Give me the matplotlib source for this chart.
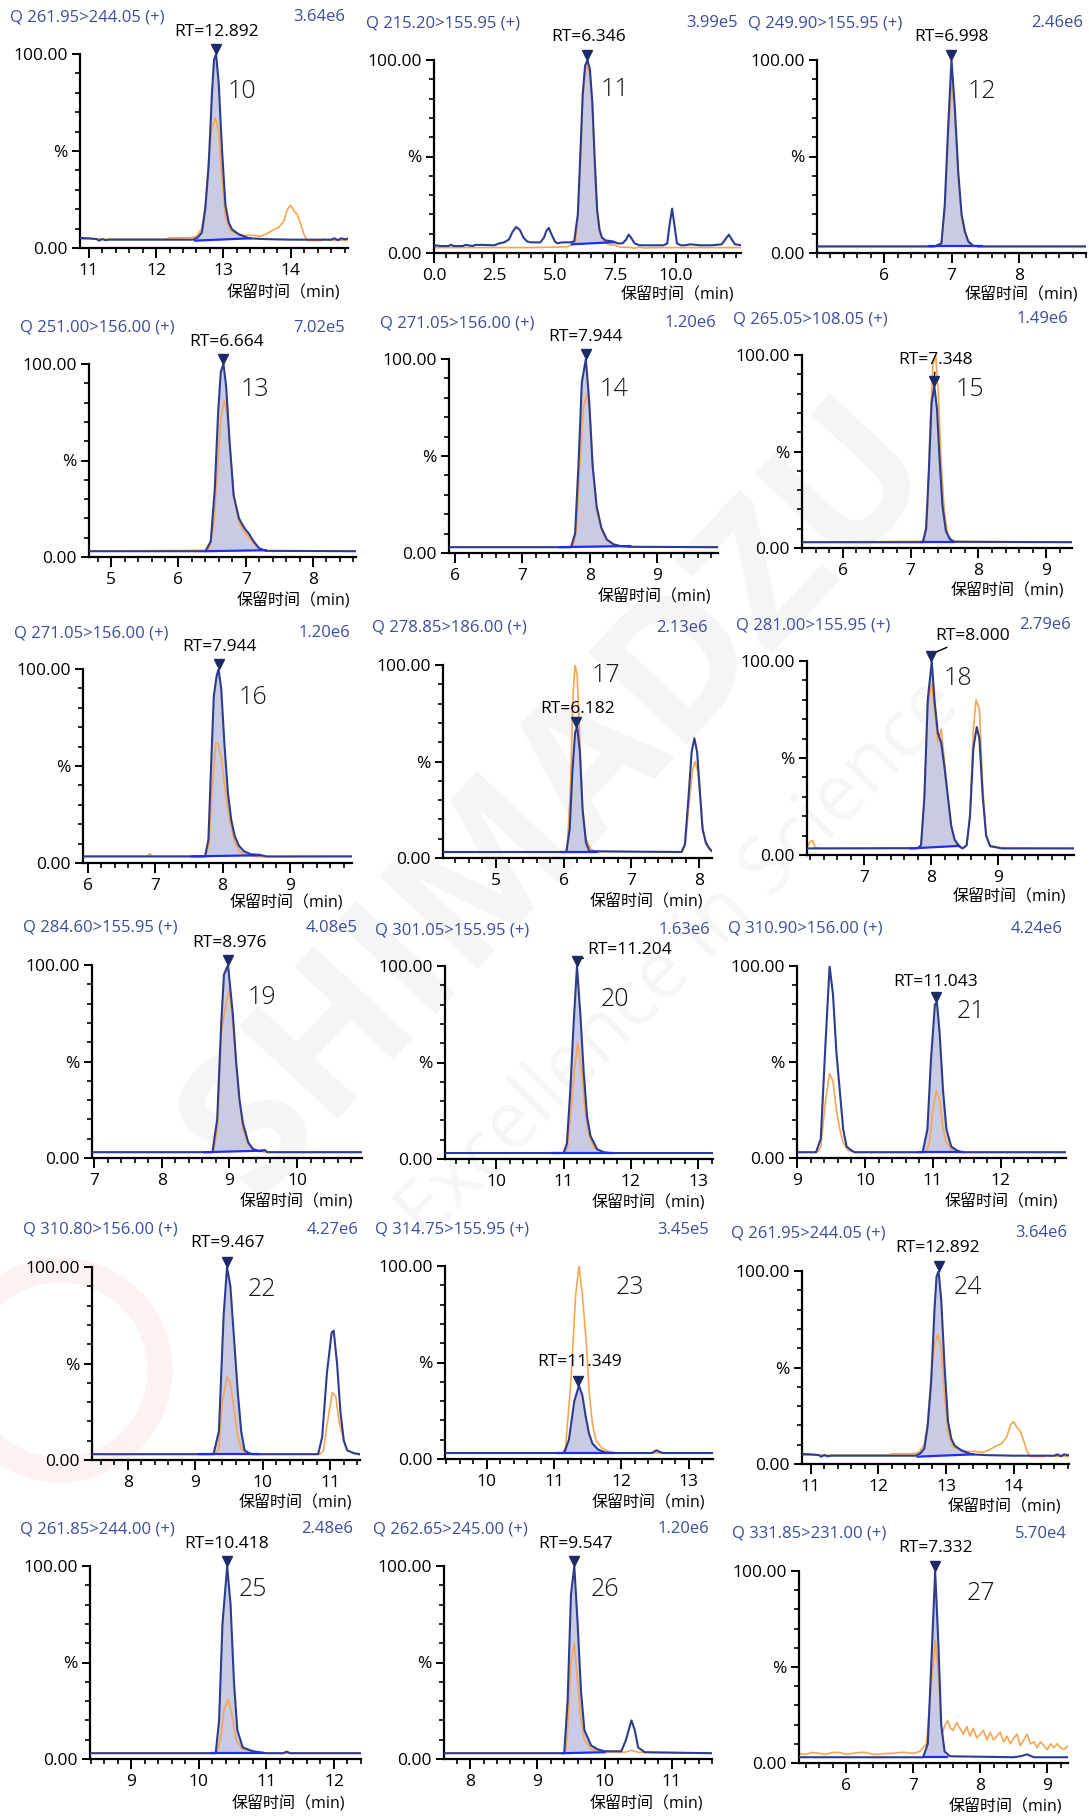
import matplotlib
matplotlib.use('Agg')
import matplotlib.pyplot as plt
from matplotlib.ticker import MultipleLocator, FixedLocator, FormatStrFormatter
from matplotlib.patches import Circle

W, H = 1089, 1816
plt.rcParams['font.family'] = ['Open Sans', 'Noto Sans CJK SC', 'DejaVu Sans']

BLUE = '#2d3d8e'
ORANGE = '#f7a552'
FILL = '#c9cbe4'
INTEG = '#1f2cf5'
MARK = '#1c2a66'
TITLE_C = '#3a4d9a'

# ---------------- data ----------------
TITLES = ['Q 261.95>244.05 (+)', 'Q 215.20>155.95 (+)', 'Q 249.90>155.95 (+)',
          'Q 251.00>156.00 (+)', 'Q 271.05>156.00 (+)', 'Q 265.05>108.05 (+)',
          'Q 271.05>156.00 (+)', 'Q 278.85>186.00 (+)', 'Q 281.00>155.95 (+)',
          'Q 284.60>155.95 (+)', 'Q 301.05>155.95 (+)', 'Q 310.90>156.00 (+)',
          'Q 310.80>156.00 (+)', 'Q 314.75>155.95 (+)', 'Q 261.95>244.05 (+)',
          'Q 261.85>244.00 (+)', 'Q 262.65>245.00 (+)', 'Q 331.85>231.00 (+)']
SCALES = ['3.64e6', '3.99e5', '2.46e6', '7.02e5', '1.20e6', '1.49e6',
          '1.20e6', '2.13e6', '2.79e6', '4.08e5', '1.63e6', '4.24e6',
          '4.27e6', '3.45e5', '3.64e6', '2.48e6', '1.20e6', '5.70e4']
NUMBERS = ['10', '11', '12', '13', '14', '15', '16', '17', '18',
           '19', '20', '21', '22', '23', '24', '25', '26', '27']
RTS = [12.892, 6.346, 6.998, 6.664, 7.944, 7.348, 7.944, 6.182, 8.000,
       8.976, 11.204, 11.043, 9.467, 11.349, 12.892, 10.418, 9.547, 7.332]
RT_HEIGHTS = [100, 100, 100, 100, 100, 84, 100, 68, 100,
              100, 100, 81, 100, 38, 100, 100, 100, 100]
XTICKS = [[11, 12, 13, 14], [0.0, 2.5, 5.0, 7.5, 10.0], [6, 7, 8],
          [5, 6, 7, 8], [6, 7, 8, 9], [6, 7, 8, 9],
          [6, 7, 8, 9], [5, 6, 7, 8], [7, 8, 9],
          [7, 8, 9, 10], [10, 11, 12, 13], [9, 10, 11, 12],
          [8, 9, 10, 11], [10, 11, 12, 13], [11, 12, 13, 14],
          [9, 10, 11, 12], [8, 9, 10, 11], [6, 7, 8, 9]]

P10_T_B = [10.87, 11.0, 11.12, 11.15, 11.2, 11.25, 11.3, 12.0, 12.55, 12.62, 12.68, 12.73, 12.78, 12.83, 12.86, 12.89, 12.93, 12.98, 13.03, 13.08, 13.13, 13.23, 13.38, 13.6, 14.0, 14.6, 14.65, 14.7, 14.75, 14.8, 14.87]
P10_Y_B = [5.2, 5.0, 4.6, 3.8, 4.6, 4.0, 4.3, 4.3, 4.3, 5.5, 8, 20, 42, 80, 97, 100, 85, 50, 22, 13, 9.5, 7, 5, 4.6, 4.3, 4.3, 5.0, 4.0, 5.0, 4.5, 5.0]
P10_T_O = [10.87, 11.5, 12.15, 12.2, 12.5, 12.6, 12.68, 12.73, 12.78, 12.83, 12.88, 12.93, 12.98, 13.03, 13.1, 13.2, 13.3, 13.45, 13.55, 13.65, 13.75, 13.82, 13.9, 13.95, 14.0, 14.05, 14.1, 14.15, 14.2, 14.25, 14.45, 14.5, 14.55, 14.87]
P10_Y_O = [4.6, 4.6, 4.6, 5.3, 5.3, 6.0, 10, 22, 45, 62, 67, 60, 35, 16, 9, 7.5, 6.5, 6.5, 6, 7.5, 9.5, 10.5, 14, 20, 22, 19, 17, 12, 6.5, 3.8, 3.8, 4.5, 4.0, 4.0]
P10_INT = [12.58, 3.8, 13.4, 5.0]

P11_T_B = [0.0, 0.3, 0.6, 0.7, 0.8, 1.2, 1.3, 1.6, 1.7, 2.0, 2.5, 2.7, 2.9, 3.1, 3.25, 3.4, 3.55, 3.7, 3.85, 4.0, 4.4, 4.55, 4.65, 4.75, 4.85, 5.0, 5.1, 5.3, 5.6, 5.8, 5.95, 6.05, 6.15, 6.25, 6.35, 6.45, 6.55, 6.65, 6.75, 6.85, 6.95, 7.1, 7.4, 7.6, 7.8, 7.95, 8.05, 8.15, 8.3, 8.5, 9.0, 9.5, 9.65, 9.75, 9.85, 9.95, 10.05, 10.2, 10.4, 10.6, 11.0, 11.5, 11.9, 12.05, 12.2, 12.32, 12.45, 12.75]
P11_Y_B = [4, 3.6, 3.6, 4.3, 3.6, 3.6, 4.2, 3.6, 4.2, 4.2, 4.0, 5.0, 5.5, 7, 11, 13.5, 12, 8, 6, 5.5, 5.5, 8, 11.5, 13, 10, 6, 5, 5.5, 5.5, 6, 20, 50, 82, 97, 100, 95, 78, 48, 22, 12, 8, 6.5, 6, 5, 5, 7, 9.5, 8, 5, 4, 4, 4, 5, 15, 23, 14, 5, 4, 4, 4.5, 4, 4, 4.5, 7, 9.5, 7, 4.5, 4]
P11_T_O = [0.0, 2.0, 4.0, 5.5, 5.85, 5.95, 6.05, 6.15, 6.25, 6.35, 6.45, 6.55, 6.65, 6.75, 6.85, 7.0, 7.2, 7.5, 7.7, 8.0, 8.3, 8.5, 8.7, 9.2, 12.75]
P11_Y_O = [2.8, 2.8, 2.8, 3.2, 5, 18, 45, 78, 94, 97, 92, 75, 45, 20, 10, 6, 4.5, 4, 3.0, 3.0, 2.5, 3.0, 2.6, 2.8, 2.8]
P11_INT = [5.7, 4.5, 7.45, 5.6]

P12_T_B = [5.0, 6.75, 6.85, 6.9, 6.95, 7.0, 7.05, 7.1, 7.15, 7.2, 7.25, 7.32, 7.4, 9.0]
P12_Y_B = [3.4, 3.4, 5, 25, 65, 100, 75, 42, 20, 11, 6, 3.8, 3.4, 3.4]
P12_T_O = [5.0, 6.75, 6.85, 6.9, 6.95, 7.0, 7.05, 7.1, 7.15, 7.2, 7.25, 7.32, 7.4, 9.0]
P12_Y_O = [3.4, 3.4, 4.5, 22, 60, 88, 72, 40, 18, 10, 5.5, 3.8, 3.4, 3.4]
P12_INT = [6.67, 3.4, 7.45, 3.4]

P13_T_B = [4.67, 6.4, 6.48, 6.54, 6.59, 6.63, 6.67, 6.71, 6.76, 6.82, 6.9, 6.98, 7.05, 7.12, 7.2, 7.3, 8.64]
P13_Y_B = [3, 3, 8, 35, 75, 96, 100, 88, 60, 32, 20, 15, 12, 8, 4.5, 3.2, 3]
P13_T_O = [4.67, 6.45, 6.52, 6.58, 6.63, 6.68, 6.72, 6.77, 6.83, 6.9, 6.98, 7.05, 7.12, 7.2, 7.3, 8.64]
P13_Y_O = [3, 3.5, 15, 45, 72, 81, 75, 55, 30, 18, 13, 10, 7, 4, 3.2, 3]
P13_INT = [6.4, 3.0, 7.3, 3.5]

P14_T_B = [5.91, 7.72, 7.78, 7.83, 7.88, 7.94, 7.99, 8.04, 8.1, 8.17, 8.25, 8.35, 8.45, 8.6, 9.9]
P14_Y_B = [3, 3, 10, 45, 88, 100, 78, 45, 24, 13, 7, 4.5, 3.6, 3.2, 3]
P14_T_O = [5.91, 7.75, 7.8, 7.85, 7.9, 7.96, 8.0, 8.05, 8.1, 8.17, 8.25, 8.35, 8.45, 8.6, 9.9]
P14_Y_O = [3, 3.2, 12, 45, 75, 82, 72, 42, 22, 12, 6.5, 4, 3.5, 3.2, 3]
P14_INT = [7.55, 3.0, 8.6, 3.6]

P15_T_B = [5.4, 7.18, 7.23, 7.27, 7.31, 7.35, 7.39, 7.43, 7.47, 7.52, 7.58, 7.65, 9.38]
P15_Y_B = [3, 3, 10, 40, 75, 84, 72, 45, 22, 9, 4.5, 3.2, 3]
P15_T_O = [5.4, 7.2, 7.25, 7.29, 7.33, 7.37, 7.41, 7.45, 7.5, 7.55, 7.62, 9.38]
P15_Y_O = [3, 3.5, 20, 65, 95, 100, 80, 45, 18, 7, 3.5, 3]
P15_INT = [7.15, 3.0, 7.62, 3.0]

P16_T_B = [5.93, 7.74, 7.79, 7.83, 7.87, 7.91, 7.94, 7.98, 8.03, 8.08, 8.13, 8.18, 8.24, 8.32, 8.42, 8.55, 8.65, 9.92]
P16_Y_B = [3.4, 3.4, 12, 50, 86, 96, 100, 90, 60, 36, 22, 14, 9, 6, 4.5, 4.2, 3.4, 3.4]
P16_T_O = [5.93, 6.88, 6.92, 6.96, 7.75, 7.8, 7.85, 7.9, 7.94, 7.98, 8.03, 8.08, 8.13, 8.18, 8.25, 8.35, 8.45, 8.6, 9.92]
P16_Y_O = [3.4, 3.4, 4.8, 3.4, 3.4, 10, 40, 62, 61, 54, 40, 28, 18, 11, 6, 4, 3.4, 3.2, 3.4]
P16_INT = [7.55, 3.4, 8.55, 4.0]

P17_T_B = [4.22, 6.04, 6.09, 6.13, 6.17, 6.2, 6.24, 6.28, 6.33, 6.38, 7.74, 7.79, 7.84, 7.89, 7.93, 7.97, 8.01, 8.05, 8.1, 8.15, 8.19]
P17_Y_B = [3.1, 3.1, 15, 45, 65, 68, 55, 25, 8, 3.5, 3.1, 7, 30, 55, 62, 55, 35, 15, 8, 5, 3.5]
P17_T_O = [4.22, 6.05, 6.1, 6.14, 6.17, 6.2, 6.24, 6.28, 6.33, 6.4, 6.47, 7.75, 7.8, 7.85, 7.9, 7.94, 7.98, 8.02, 8.06, 8.1, 8.15, 8.19]
P17_Y_O = [3.1, 3.3, 35, 85, 100, 95, 60, 25, 10, 4.5, 3.3, 3.1, 8, 28, 45, 50, 45, 30, 14, 7, 4.5, 3.5]
P17_INT = [5.97, 3.1, 6.5, 3.1]

P18_T_B = [6.15, 7.8, 7.85, 7.9, 7.95, 8.01, 8.05, 8.1, 8.15, 8.2, 8.25, 8.3, 8.35, 8.42, 8.47, 8.53, 8.58, 8.63, 8.68, 8.72, 8.77, 8.82, 8.88, 9.0, 9.05, 10.13]
P18_Y_B = [3.4, 3.5, 5, 30, 80, 100, 80, 63, 58, 45, 30, 15, 8, 4.5, 3.4, 5, 20, 55, 66, 60, 30, 10, 4.5, 3.8, 3.4, 3.4]
P18_T_O = [6.15, 6.2, 6.23, 6.27, 6.35, 7.8, 7.85, 7.9, 7.95, 8.01, 8.05, 8.1, 8.15, 8.2, 8.25, 8.3, 8.35, 8.42, 8.47, 8.53, 8.58, 8.63, 8.67, 8.72, 8.77, 8.82, 8.88, 9.0, 10.13]
P18_Y_O = [4, 7, 7.5, 4, 3.4, 3.5, 5, 30, 78, 88, 75, 58, 65, 48, 30, 15, 7, 4, 3.4, 5, 22, 65, 80, 75, 35, 10, 5, 3.8, 3.4]
P18_INT = [7.7, 3.4, 8.42, 4.7]

P19_T_B = [6.97, 8.75, 8.82, 8.88, 8.92, 8.98, 9.05, 9.1, 9.15, 9.2, 9.28, 9.35, 9.45, 9.52, 9.56, 10.96]
P19_Y_B = [3, 3, 20, 70, 95, 100, 75, 50, 30, 18, 8, 4.5, 3.5, 4.2, 3, 3]
P19_T_O = [6.97, 8.77, 8.83, 8.88, 8.95, 9.0, 9.05, 9.1, 9.15, 9.2, 9.28, 9.4, 9.5, 10.96]
P19_Y_O = [3, 3, 18, 65, 80, 87, 70, 48, 30, 15, 7, 4, 3.2, 3]
P19_INT = [8.63, 3.0, 9.48, 3.8]

P20_T_B = [9.24, 11.0, 11.05, 11.1, 11.15, 11.2, 11.25, 11.3, 11.35, 11.4, 11.5, 11.6, 11.7, 13.22]
P20_Y_B = [3.1, 3.1, 8, 35, 70, 100, 75, 45, 22, 12, 5, 3.5, 3.1, 3.1]
P20_T_O = [9.24, 11.02, 11.06, 11.11, 11.16, 11.21, 11.27, 11.32, 11.38, 11.45, 11.55, 11.62, 13.22]
P20_Y_O = [3.1, 3.1, 6, 25, 45, 60, 45, 25, 12, 6, 4, 3.1, 3.1]
P20_INT = [10.83, 3.1, 11.72, 3.1]

P21_T_B = [9.0, 9.28, 9.35, 9.42, 9.48, 9.53, 9.58, 9.63, 9.68, 9.73, 9.8, 9.85, 10.85, 10.92, 10.97, 11.03, 11.06, 11.1, 11.15, 11.2, 11.27, 11.35, 11.43, 12.96]
P21_Y_B = [3, 3, 10, 60, 100, 85, 55, 35, 15, 6, 4, 3, 3, 15, 50, 80, 81, 65, 35, 15, 6, 4, 3, 3]
P21_T_O = [9.0, 9.3, 9.35, 9.42, 9.48, 9.53, 9.58, 9.63, 9.68, 9.75, 9.85, 10.9, 10.95, 11.0, 11.05, 11.1, 11.15, 11.2, 11.28, 11.35, 12.96]
P21_Y_O = [3, 3, 6, 30, 44, 40, 25, 15, 8, 4, 3, 3, 8, 25, 35, 30, 15, 8, 4, 3, 3]
P21_INT = [10.8, 3.0, 11.45, 3.0]

P22_T_B = [7.47, 9.27, 9.35, 9.42, 9.47, 9.52, 9.58, 9.63, 9.68, 9.73, 9.8, 9.85, 10.82, 10.88, 10.95, 11.02, 11.05, 11.1, 11.15, 11.2, 11.25, 11.35, 11.44]
P22_Y_B = [3, 3, 15, 75, 100, 90, 60, 35, 15, 5, 3.5, 3, 3, 12, 45, 66, 67, 50, 25, 10, 5, 3.5, 3]
P22_T_O = [7.47, 9.3, 9.35, 9.4, 9.47, 9.52, 9.58, 9.63, 9.68, 9.75, 9.85, 10.85, 10.9, 10.95, 11.03, 11.08, 11.13, 11.2, 11.25, 11.35, 11.44]
P22_Y_O = [3, 3, 6, 30, 43, 40, 25, 12, 6, 3.5, 3, 3, 5, 18, 35, 33, 20, 10, 5, 3.5, 2.5]
P22_INT = [9.05, 2.9, 9.93, 2.9]

P23_T_B = [9.38, 11.15, 11.22, 11.3, 11.37, 11.42, 11.47, 11.52, 11.57, 11.65, 11.75, 11.85, 12.45, 12.52, 12.58, 12.62, 13.36]
P23_Y_B = [3.1, 3.1, 10, 30, 38, 33, 22, 13, 8, 5, 3.5, 3.1, 3.1, 4.5, 3.5, 3.1, 3.1]
P23_T_O = [9.38, 11.12, 11.17, 11.25, 11.32, 11.37, 11.42, 11.48, 11.52, 11.57, 11.62, 11.7, 11.8, 11.87, 11.95, 13.36]
P23_Y_O = [3.1, 3.1, 6, 40, 85, 100, 85, 60, 35, 18, 10, 6, 4, 3.5, 3.1, 3.1]
P23_INT = [11.04, 3.1, 11.88, 3.1]

P24_T_B, P24_Y_B, P24_T_O, P24_Y_O, P24_INT = P10_T_B, P10_Y_B, P10_T_O, P10_Y_O, P10_INT

P25_T_B = [8.39, 10.25, 10.3, 10.35, 10.42, 10.47, 10.52, 10.57, 10.65, 10.8, 10.9, 11.0, 11.25, 11.3, 11.35, 12.4]
P25_Y_B = [3, 3, 20, 70, 100, 80, 40, 15, 6, 4, 3.5, 3, 3, 3.8, 3, 3]
P25_T_O = [8.39, 10.27, 10.32, 10.37, 10.43, 10.48, 10.55, 10.65, 10.8, 10.9, 12.4]
P25_Y_O = [3, 3, 10, 25, 31, 25, 10, 5, 4, 3, 3]
P25_INT = [10.2, 3.0, 10.95, 3.0]

P26_T_B = [7.61, 9.4, 9.45, 9.5, 9.55, 9.6, 9.65, 9.7, 9.8, 9.9, 10.0, 10.25, 10.32, 10.4, 10.45, 10.5, 10.6, 11.6]
P26_Y_B = [3, 3, 30, 85, 100, 70, 35, 15, 7, 5, 4, 4, 10, 20, 15, 6, 3.5, 3]
P26_T_O = [7.61, 9.42, 9.46, 9.5, 9.55, 9.6, 9.65, 9.7, 9.8, 10.0, 10.3, 10.4, 10.5, 11.6]
P26_Y_O = [3, 3, 20, 50, 60, 40, 20, 10, 5, 3.5, 3.5, 4.5, 3.5, 3]
P26_INT = [9.38, 3.0, 10.0, 3.5]

P27_T_B = [5.3, 7.15, 7.22, 7.27, 7.33, 7.38, 7.42, 7.47, 7.55, 8.5, 8.6, 8.7, 8.8, 9.31]
P27_Y_B = [3, 3, 10, 50, 100, 60, 20, 6, 3.5, 3, 3.5, 4.5, 3, 3]
P27_T_O = [5.3, 5.4, 5.5, 5.6, 5.7, 5.8, 5.9, 6.0, 6.1, 6.2, 6.3, 6.4, 6.5, 6.6, 6.7, 6.8, 6.9, 7.0, 7.1, 7.2, 7.27, 7.33, 7.38, 7.43, 7.48, 7.52, 7.56, 7.6, 7.65, 7.7, 7.75, 7.8, 7.85, 7.9, 7.95, 8.0, 8.05, 8.1, 8.15, 8.2, 8.25, 8.3, 8.35, 8.4, 8.45, 8.5, 8.55, 8.6, 8.65, 8.7, 8.75, 8.8, 8.85, 8.9, 8.95, 9.0, 9.05, 9.1, 9.15, 9.2, 9.25, 9.31]
P27_Y_O = [5, 4.5, 5.5, 5, 4.5, 5.5, 5.5, 4.5, 5, 5.5, 5.5, 4.5, 4.5, 5, 5, 5.5, 5.5, 5, 6, 10, 40, 64, 45, 15, 20, 22, 18, 17, 21, 18, 15, 19, 14, 18, 13, 15, 17, 12, 16, 12, 14, 16, 11, 14, 10, 13, 15, 9, 12, 15, 10, 11, 8, 11, 9, 7, 10, 8, 10, 8, 7, 9]
P27_INT = [7.15, 3.0, 7.5, 3.0]

XLIMS = [(10.87, 14.85), (0.0, 12.7), (5.0, 9.0),
         (4.67, 8.64), (5.91, 9.9), (5.4, 9.38),
         (5.93, 9.92), (4.22, 8.19), (6.15, 10.13),
         (6.97, 10.96), (9.24, 13.22), (9.0, 12.96),
         (7.47, 11.44), (9.38, 13.36), (10.87, 14.82),
         (8.39, 12.4), (7.61, 11.6), (5.3, 9.31)]

TRACES = [
    (P10_T_B, P10_Y_B, P10_T_O, P10_Y_O, P10_INT),
    (P11_T_B, P11_Y_B, P11_T_O, P11_Y_O, P11_INT),
    (P12_T_B, P12_Y_B, P12_T_O, P12_Y_O, P12_INT),
    (P13_T_B, P13_Y_B, P13_T_O, P13_Y_O, P13_INT),
    (P14_T_B, P14_Y_B, P14_T_O, P14_Y_O, P14_INT),
    (P15_T_B, P15_Y_B, P15_T_O, P15_Y_O, P15_INT),
    (P16_T_B, P16_Y_B, P16_T_O, P16_Y_O, P16_INT),
    (P17_T_B, P17_Y_B, P17_T_O, P17_Y_O, P17_INT),
    (P18_T_B, P18_Y_B, P18_T_O, P18_Y_O, P18_INT),
    (P19_T_B, P19_Y_B, P19_T_O, P19_Y_O, P19_INT),
    (P20_T_B, P20_Y_B, P20_T_O, P20_Y_O, P20_INT),
    (P21_T_B, P21_Y_B, P21_T_O, P21_Y_O, P21_INT),
    (P22_T_B, P22_Y_B, P22_T_O, P22_Y_O, P22_INT),
    (P23_T_B, P23_Y_B, P23_T_O, P23_Y_O, P23_INT),
    (P24_T_B, P24_Y_B, P24_T_O, P24_Y_O, P24_INT),
    (P25_T_B, P25_Y_B, P25_T_O, P25_Y_O, P25_INT),
    (P26_T_B, P26_Y_B, P26_T_O, P26_Y_O, P26_INT),
    (P27_T_B, P27_Y_B, P27_T_O, P27_Y_O, P27_INT),
]

# ---------------- layout (pixels) ----------------
BOXES = [(80, 54, 248, 348), (434, 60, 253, 741), (817, 60, 253, 1086),
         (89, 364, 557, 356), (449, 359, 553, 718), (802, 355, 548, 1072),
         (83, 669, 863, 352), (443, 665, 858, 712), (807, 661, 855, 1074),
         (92, 965, 1158, 362), (445, 966, 1159, 713), (797, 966, 1158, 1066),
         (92, 1267, 1460, 360), (445, 1266, 1459, 713), (802, 1271, 1464, 1069),
         (90, 1566, 1759, 361), (444, 1566, 1759, 712), (799, 1571, 1763, 1068)]
TITLE_POS = [(10, 17), (366, 23), (748, 23), (20, 328), (380, 323), (733, 319),
             (14, 633), (372, 628), (736, 625), (23, 928), (375, 930), (728, 929),
             (23, 1230), (375, 1230), (731, 1233), (20, 1529), (373, 1529), (732, 1534)]
SCALE_X = [345, 738, 1083, 345, 716, 1068, 350, 708, 1071, 358, 710, 1063,
           358, 709, 1067, 353, 709, 1067]
RT_POS = [(217, 32), (589, 37), (952, 37), (227, 342), (586, 337), (936, 360),
          (220, 647), (578, 709), (973, 636), (229, 943), (630, 950), (936, 982),
          (227, 1243), (580, 1362), (938, 1248), (227, 1544), (576, 1544), (936, 1548)]
LEADER = [False, False, False, False, False, True, False, False, True,
          False, True, False, False, False, False, False, False, False]
NUM_POS = [(242, 92), (615, 90), (982, 92), (255, 390), (614, 390), (970, 390),
           (253, 697), (606, 676), (958, 678), (262, 998), (615, 1000), (971, 1012),
           (262, 1290), (630, 1288), (968, 1287), (253, 1589), (605, 1589), (981, 1594)]
XLAB_POS = [(340, 293), (734, 295), (1078, 295), (350, 601), (711, 597), (1064, 591),
            (343, 903), (703, 902), (1066, 897), (353, 1202), (705, 1203), (1058, 1202),
            (352, 1503), (705, 1503), (1061, 1507), (345, 1804), (703, 1804), (1062, 1807)]

fig = plt.figure(figsize=(W / 100, H / 100), dpi=100)
fig.patch.set_facecolor('white')


def fx(x):
    return x / W


def fy(y):
    return 1 - y / H


# faint background watermark (drawn behind all axes)
fig.text(fx(560), fy(800), 'SHIMADZU', fontsize=135, fontweight='bold', color='#f5f5f5',
         rotation=47, ha='center', va='center', zorder=-10)
fig.text(fx(680), fy(960), 'Excellence in Science', fontsize=56, color='#f6f6f6',
         rotation=45, ha='center', va='center', zorder=-10)
fig.patches.append(Circle((60, H - 1370), 100, transform=None, fill=False,
                          ec='#fdf2f2', lw=18, zorder=-10))

for i in range(18):
    x0, y100, y0, xr = BOXES[i]
    ax = fig.add_axes([fx(x0), fy(y0), (xr - x0) / W, (y0 - y100) / H])
    ax.set_zorder(1)
    ax.set_xlim(*XLIMS[i])
    ax.set_ylim(0, 100)
    ax.patch.set_alpha(0)
    for s in ('top', 'right'):
        ax.spines[s].set_visible(False)
    for s in ('left', 'bottom'):
        ax.spines[s].set_linewidth(1.6)
        ax.spines[s].set_color('black')
    ax.yaxis.set_major_locator(FixedLocator([0, 50, 100]))
    ax.set_yticklabels(['0.00', '%', '100.00'])
    ax.yaxis.set_minor_locator(MultipleLocator(10))
    ax.xaxis.set_major_locator(FixedLocator(XTICKS[i]))
    if i == 1:
        ax.xaxis.set_minor_locator(MultipleLocator(0.5))
        ax.xaxis.set_major_formatter(FormatStrFormatter('%.1f'))
    else:
        ax.xaxis.set_minor_locator(MultipleLocator(0.2))
        ax.xaxis.set_major_formatter(FormatStrFormatter('%d'))
    ax.tick_params(axis='both', which='major', direction='out', length=6, width=1.4,
                   labelsize=12.5, colors='black', pad=3)
    ax.tick_params(axis='both', which='minor', direction='out', length=3.5, width=1.2)
    ax.tick_params(axis='x', which='major', length=7, pad=4)

    tb, yb, to, yo, integ = TRACES[i]
    t0, b0, t1, b1 = integ
    px = [t0] + [t for t in tb if t0 < t < t1] + [t1]
    py = [b0] + [v for t, v in zip(tb, yb) if t0 < t < t1] + [b1]
    ax.fill(px, py, color=FILL, lw=0, zorder=1)
    ax.plot(to, yo, color=ORANGE, lw=1.2, zorder=2, solid_joinstyle='round')
    ax.plot(tb, yb, color=BLUE, lw=1.5, zorder=3, solid_joinstyle='round')
    ax.plot([t0, t1], [b0, b1], color=INTEG, lw=1.6, zorder=4)
    ax.plot([RTS[i]], [RT_HEIGHTS[i] + 2.6], marker='v', ms=7, color=MARK,
            clip_on=False, zorder=5, ls='none')

    tx, ty = TITLE_POS[i]
    fig.text(fx(tx), fy(ty), TITLES[i], color=TITLE_C, fontsize=12, ha='left', va='center', zorder=2)
    fig.text(fx(SCALE_X[i]), fy(ty), SCALES[i], color=TITLE_C, fontsize=12, ha='right', va='center', zorder=2)
    rx, ry = RT_POS[i]
    label = 'RT=%.3f' % RTS[i]
    if LEADER[i]:
        ax.annotate(label, xy=(RTS[i], RT_HEIGHTS[i] + 3.5), xycoords='data',
                    xytext=(rx, H - ry), textcoords='figure pixels',
                    ha='center', va='center', fontsize=12.5, color='black',
                    arrowprops=dict(arrowstyle='-', lw=1.0, color='black',
                                    shrinkA=1, shrinkB=2), annotation_clip=False)
    else:
        fig.text(fx(rx), fy(ry), label, fontsize=12.5, color='black', ha='center', va='center', zorder=2)
    nx, ny = NUM_POS[i]
    fig.text(fx(nx), fy(ny), NUMBERS[i], fontsize=18, color='#151515',
             fontweight='light', ha='center', va='center', zorder=2)
    lx, ly = XLAB_POS[i]
    fig.text(fx(lx), fy(ly), '保留时间（min)', fontsize=11.5, color='black',
             ha='right', va='center', zorder=2)

fig.savefig('out.png', dpi=100, facecolor='white')
